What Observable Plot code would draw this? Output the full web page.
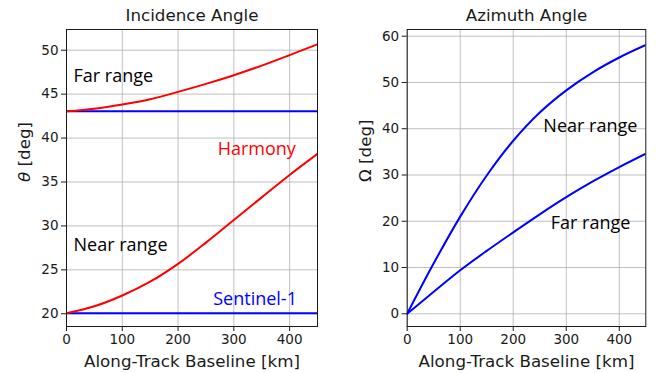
<!DOCTYPE html>
<html>
<head>
<meta charset="utf-8">
<script src="https://cdn.jsdelivr.net/npm/d3@7"></script>
<script src="https://cdn.jsdelivr.net/npm/@observablehq/plot@0.6"></script>
<style>
  html, body { margin: 0; padding: 0; background: #fff; }
  #fig { position: relative; width: 657px; height: 373px; overflow: hidden; }
  #fig svg { position: absolute; top: 0; }
</style>
</head>
<body>
<div id="fig"></div>
<script>
// Along-track baseline samples [km]
const baseline = [0, 50, 100, 150, 200, 250, 300, 350, 400, 450];

// Incidence angle [deg]
const harmonyFar  = [43.05, 43.35, 43.83, 44.43, 45.26, 46.17, 47.16, 48.25, 49.45, 50.68];
const harmonyNear = [20.05, 20.85, 22.08, 23.65, 25.68, 28.1, 30.68, 33.25, 35.8, 38.2];
const sentinelFar  = [43.05, 43.05, 43.05, 43.05, 43.05, 43.05, 43.05, 43.05, 43.05, 43.05];
const sentinelNear = [20.05, 20.05, 20.05, 20.05, 20.05, 20.05, 20.05, 20.05, 20.05, 20.05];

// Azimuth angle [deg]
const azimuthNear = [0, 10.9, 21.0, 29.9, 37.4, 43.5, 48.3, 52.2, 55.4, 58.1];
const azimuthFar  = [0, 4.75, 9.4, 13.6, 17.6, 21.5, 25.2, 28.6, 31.7, 34.6];

// Axis ticks
const xTicks = [0, 100, 200, 300, 400];
const incTicks = [20, 25, 30, 35, 40, 45, 50];
const aziTicks = [0, 10, 20, 30, 40, 50, 60];

const series = (vals, name) => baseline.map((b, i) => ({b, v: vals[i], name}));

const FONT = "DejaVu Sans";
const NOTE = "'Open Sans'";
const INK = "#1a1a1a";

function panel({width, marginLeft, marginRight, yDomain, yTicks, title, ylabel, ylabelX, lines, notes}) {
  return Plot.plot({
    width, height: 373,
    marginLeft, marginRight, marginTop: 29, marginBottom: 47,
    style: {fontFamily: FONT, fontSize: "13.5px", color: INK, background: "transparent"},
    x: {domain: [0, 450], ticks: xTicks, label: null},
    y: {domain: yDomain, ticks: yTicks, label: null},
    marks: [
      Plot.gridX(xTicks, {stroke: "#b0b0b0", strokeOpacity: 0.8, strokeWidth: 1}),
      Plot.gridY(yTicks, {stroke: "#b0b0b0", strokeOpacity: 0.8, strokeWidth: 1}),
      Plot.axisX(xTicks, {tickSize: 5, tickPadding: 3, stroke: INK, fill: INK, fontSize: 13.5, label: null}),
      Plot.axisY(yTicks, {tickSize: 5, tickPadding: 3, stroke: INK, fill: INK, fontSize: 13.5, label: null}),
      ...lines.map(([data, color]) =>
        Plot.line(data, {x: "b", y: "v", stroke: color, strokeWidth: 2, curve: "catmull-rom", clip: true})),
      ...notes.map(([text, x, y, color]) =>
        Plot.text([text], {x: () => x, y: () => y, text: d => d, textAnchor: "start", lineAnchor: "middle",
          fill: color, fontSize: 18, fontFamily: NOTE})),
      Plot.frame({stroke: INK, strokeWidth: 1}),
      Plot.text([title], {frameAnchor: "top", dy: -14, lineAnchor: "middle", fontSize: 16.7, fill: INK}),
      Plot.text(["Along-Track Baseline [km]"], {frameAnchor: "bottom", dy: 35, lineAnchor: "middle", fontSize: 16.7, fill: INK}),
      Plot.text([ylabel], {frameAnchor: "left", dx: -(marginLeft - ylabelX), dy: 4, rotate: -90, lineAnchor: "middle", fontSize: 16.7, fill: INK})
    ]
  });
}

const left = panel({
  width: 330, marginLeft: 66, marginRight: 13,
  yDomain: [18.55, 52.36], yTicks: incTicks,
  title: "Incidence Angle", ylabel: "θ [deg]", ylabelX: 24,
  lines: [
    [series(sentinelFar, "Sentinel-1 far"), "#0000ff"],
    [series(sentinelNear, "Sentinel-1 near"), "#0000ff"],
    [series(harmonyFar, "Harmony far"), "#ff0000"],
    [series(harmonyNear, "Harmony near"), "#ff0000"]
  ],
  notes: [
    ["Far range", 12.6, 47.0, "#000"],
    ["Harmony", 271, 38.7, "#ff0000"],
    ["Near range", 12.6, 27.75, "#000"],
    ["Sentinel-1", 263, 21.6, "#0000ff"]
  ]
});

const right = panel({
  width: 327, marginLeft: 76.7, marginRight: 11.7,
  yDomain: [-2.75, 61.45], yTicks: aziTicks,
  title: "Azimuth Angle", ylabel: "Ω [deg]", ylabelX: 35,
  lines: [
    [series(azimuthNear, "near"), "#0000ff"],
    [series(azimuthFar, "far"), "#0000ff"]
  ],
  notes: [
    ["Near range", 256.8, 40.6, "#000"],
    ["Far range", 270.7, 19.5, "#000"]
  ]
});

left.style.left = "0px";
right.style.left = "330px";
const fig = document.getElementById("fig");
fig.append(left, right);

// Italic theta, as in mathtext
d3.select(left).selectAll("text").filter(function () { return this.textContent === "θ [deg]"; })
  .each(function () {
    const t = d3.select(this);
    t.text(null);
    t.append("tspan").attr("font-style", "italic").text("θ");
    t.append("tspan").text(" [deg]");
  });
</script>
</body>
</html>
